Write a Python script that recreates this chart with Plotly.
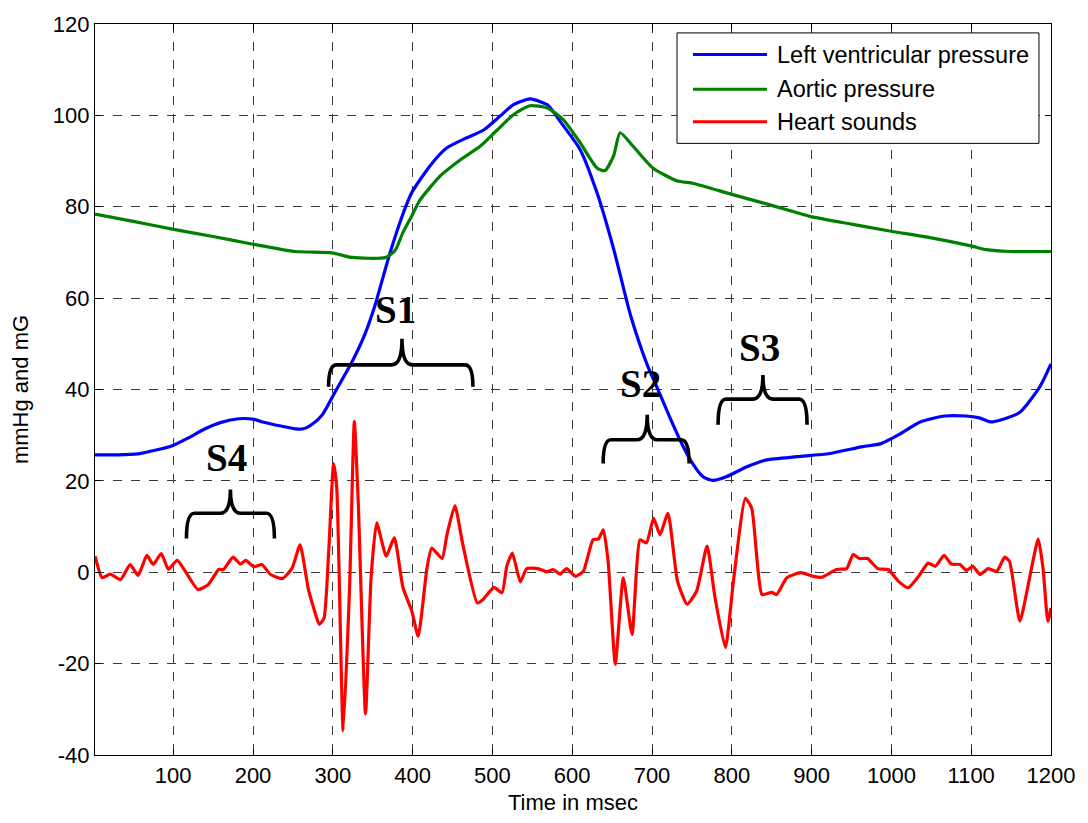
import plotly.graph_objects as go

# ---------------- data ----------------
t_lv = [2, 30, 56, 80, 99, 120, 140, 160, 182, 200, 212, 235, 253, 263, 275, 287, 303, 324, 340, 353,
        370, 385, 399, 422, 443, 468, 489, 510, 526, 547, 560, 569, 589, 610, 631, 652, 673, 694, 706,
        723, 735, 748, 764, 776, 793, 819, 844, 882, 923, 964, 986, 1011, 1036, 1067, 1093, 1110, 1124,
        1140, 1161, 1186, 1200]
lv = [25.7, 25.7, 25.9, 26.8, 27.7, 29.5, 31.4, 32.8, 33.6, 33.5, 32.9, 32.0, 31.4, 31.4, 32.5, 34.5,
      39.5, 46.0, 52.0, 58.5, 68.9, 77.0, 83.1, 89.0, 92.9, 95.1, 96.8, 99.9, 102.3, 103.6, 103.0, 102.3,
      97.7, 92.5, 83.1, 70.7, 56.3, 45.4, 40.6, 33.6, 29.0, 24.6, 20.9, 20.1, 20.9, 23.1, 24.6, 25.3,
      26.0, 27.5, 28.1, 30.3, 32.9, 34.2, 34.2, 33.8, 32.9, 33.5, 35.0, 40.6, 45.6]

t_ao = [2, 50, 99, 150, 200, 253, 299, 324, 366, 378, 388, 399, 409, 435, 460, 485, 506, 526, 547, 569,
        589, 610, 631, 641, 652, 660, 676, 701, 731, 752, 800, 850, 898, 950, 998, 1050, 1098, 1119,
        1148, 1200]
ao = [78.4, 76.8, 75.1, 73.5, 71.8, 70.2, 69.9, 68.9, 68.9, 70.4, 74.4, 78.0, 81.4, 86.8, 90.3, 93.3,
      96.8, 100.1, 102.1, 101.6, 99.0, 94.0, 88.5, 87.9, 91.2, 96.2, 93.3, 88.5, 85.7, 85.1, 82.7, 80.3,
      77.9, 76.2, 74.7, 73.2, 71.5, 70.6, 70.2, 70.2]

t_hs = [2, 11, 21, 34, 46, 56, 67, 75, 85, 94, 105, 131, 144, 157, 163, 175, 184, 191, 201, 211, 222,
        237, 249, 259, 269, 276, 283, 289, 295, 301, 305, 313, 321, 327, 332, 341, 348, 355, 367, 377,
        388, 399, 407, 418, 424, 437, 443, 453, 463, 481, 488, 502, 512, 518, 525, 535, 543, 557, 568,
        576, 585, 593, 604, 614, 626, 633, 639, 645, 654, 664, 675, 685, 693, 702, 710, 720, 732, 744,
        756, 769, 779, 792, 802, 817, 825, 838, 850, 856, 869, 886, 902, 913, 931, 944, 952, 960, 970,
        983, 996, 1009, 1021, 1034, 1046, 1055, 1066, 1075, 1086, 1094, 1102, 1111, 1121, 1132, 1142,
        1148, 1161, 1174, 1184, 1190, 1196, 1200]
hs = [3.5, -1.2, -0.4, -1.6, 1.7, -0.7, 3.7, 1.7, 4.1, 0.6, 2.6, -3.8, -2.7, 0.6, 0.6, 3.3, 1.8, 2.6,
      1.2, 1.7, -0.5, -1.4, 0.9, 6.0, -3.4, -7.8, -11.4, -10.0, 5.0, 23.8, 18.4, -34.7, -3.4, 33.0, 14.8,
      -31.0, -1.0, 10.8, 3.5, 7.6, -3.4, -8.5, -14.0, 0.9, 5.3, 3.0, 8.2, 14.6, 6.0, -6.7, -6.0, -3.3,
      -4.5, 1.3, 4.2, -2.1, 0.8, 0.8, 0.1, 0.6, -0.4, 0.8, -0.9, 0.2, 7.1, 7.3, 9.3, 2.4, -20.1, -1.2,
      -13.6, 7.1, 6.4, 11.8, 8.2, 12.9, -2.0, -7.0, -4.1, 5.7, -5.6, -16.5, -2.0, 16.2, 14.0, -4.9,
      -4.4, -4.9, -1.2, -0.1, -0.9, -1.1, 0.6, 0.8, 3.9, 3.0, 3.0, 0.8, 0.6, -2.0, -3.4, -0.9, 2.0,
      1.3, 3.7, 1.8, 1.7, 0.4, 1.3, -0.5, 0.8, 0.2, 3.3, 2.4, -10.7, -0.5, 7.3, 0.9, -10.7, -7.8]

series_names = ["Left ventricular pressure", "Aortic pressure", "Heart sounds"]
series_colors = ["#0000FF", "#008000", "#FF0000"]

x_ticks = list(range(100, 1201, 100))
x_ticklabels = [str(v) for v in x_ticks]
y_ticks = list(range(-40, 121, 20))
y_ticklabels = [str(v) for v in y_ticks]  # plain hyphen minus, as in the reference

# sound labels: (label, text x, text y, brace left, brace right, brace tip x, end y, bar y, tip y)
sound_labels = [
    ("S4", 167, 25.1, 116.6, 226.8, 171.7, 7.4, 12.9, 18.1),
    ("S1", 378, 57.6, 294.7, 475.6, 386.7, 40.6, 45.4, 51.1),
    ("S2", 686, 41.3, 638.8, 746.5, 694.0, 23.8, 29.0, 34.5),
    ("S3", 835, 49.3, 782.8, 894.3, 839.0, 32.3, 37.9, 43.2),
]

# ---------------- figure ----------------
fig = go.Figure()
for t, v, name, col, sm in zip([t_lv, t_ao, t_hs], [lv, ao, hs], series_names, series_colors,
                               [0.6, 0.6, 0.5]):
    fig.add_trace(go.Scatter(x=t, y=v, mode="lines", name=name,
                             line=dict(color=col, width=3.2, shape="spline", smoothing=sm),
                             showlegend=False))

def brace_path(x0, x1, xm, yb, yh, yt, cw=10.0, tw=13.0):
    return (f"M {x0},{yb} Q {x0},{yh} {x0 + cw},{yh} L {xm - tw},{yh} "
            f"Q {xm},{yh} {xm},{yt} Q {xm},{yh} {xm + tw},{yh} "
            f"L {x1 - cw},{yh} Q {x1},{yh} {x1},{yb}")

shapes = []
annotations = []
for lab, tx, ty, x0, x1, xm, yb, yh, yt in sound_labels:
    shapes.append(dict(type="path", xref="x", yref="y",
                       path=brace_path(x0, x1, xm, yb, yh, yt),
                       line=dict(color="black", width=3.6)))
    annotations.append(dict(x=tx, y=ty, xref="x", yref="y", text=f"<b>{lab}</b>",
                            showarrow=False, xanchor="center", yanchor="middle",
                            font=dict(family="Liberation Serif", size=39, color="black")))

# custom MATLAB-style legend
leg_x0, leg_x1, leg_y0, leg_y1 = 0.6088, 0.9874, 0.8367, 0.9878
shapes.append(dict(type="rect", xref="paper", yref="paper", x0=leg_x0, x1=leg_x1,
                   y0=leg_y0, y1=leg_y1, line=dict(color="black", width=1), fillcolor="white",
                   layer="above"))
row_y = [0.9582, 0.9106, 0.8662]
for name, col, ry in zip(series_names, series_colors, row_y):
    shapes.append(dict(type="line", xref="paper", yref="paper", x0=0.6255, x1=0.7029,
                       y0=ry, y1=ry, line=dict(color=col, width=3), layer="above"))
    annotations.append(dict(x=0.7113, y=ry, xref="paper", yref="paper", text=name,
                            showarrow=False, xanchor="left", yanchor="middle",
                            font=dict(family="Liberation Sans", size=23.5, color="black")))

axis_common = dict(
    showline=True, linecolor="black", linewidth=1.3, mirror="allticks",
    ticks="inside", ticklen=6, tickcolor="black", tickwidth=1,
    showgrid=True, gridcolor="#3a3a3a", griddash="dash", gridwidth=1,
    zeroline=False,
    tickfont=dict(family="Liberation Sans", size=22, color="black"),
)

fig.update_layout(
    width=1088, height=823,
    margin=dict(l=95, r=37, t=20, b=68),
    paper_bgcolor="white", plot_bgcolor="white",
    shapes=shapes, annotations=annotations,
    showlegend=False,
    xaxis=dict(range=[2, 1200], tickvals=x_ticks, ticktext=x_ticklabels,
               title=dict(text="Time in msec", standoff=8,
                          font=dict(family="Liberation Sans", size=22, color="black")),
               **axis_common),
    yaxis=dict(range=[-40, 120], tickvals=y_ticks, ticktext=y_ticklabels,
               title=dict(text="mmHg and mG", standoff=18,
                          font=dict(family="Liberation Sans", size=22, color="black")),
               **axis_common),
)

fig.write_html("out.html")
